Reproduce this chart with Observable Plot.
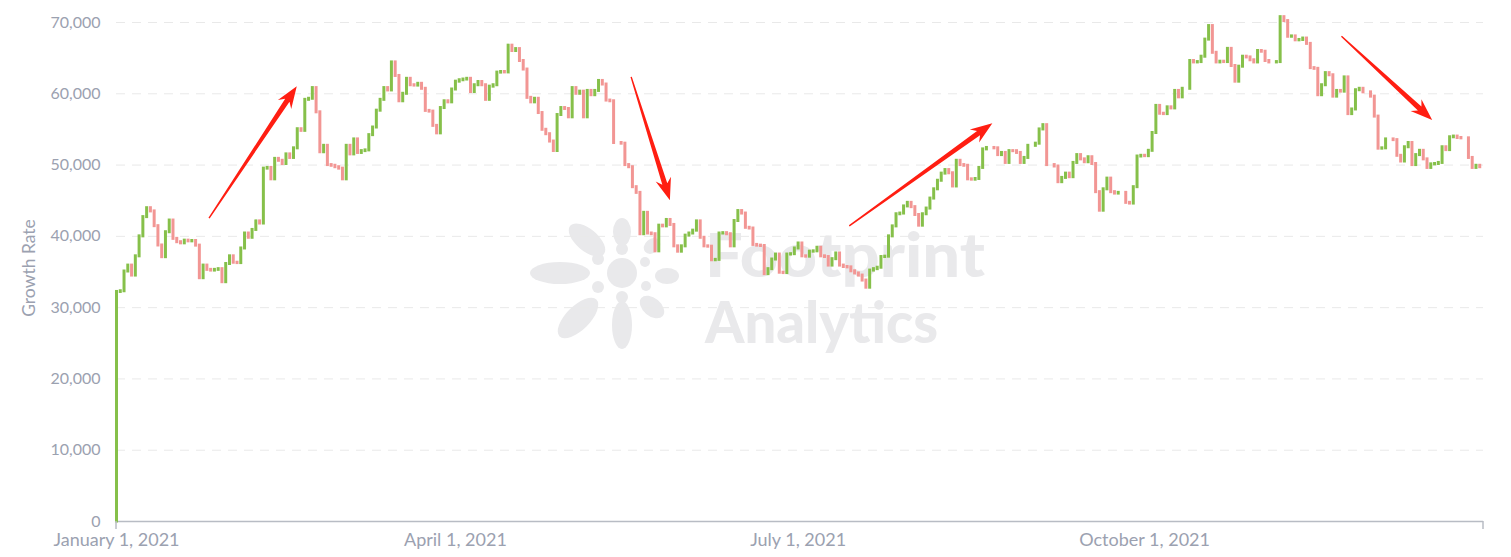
<!DOCTYPE html>
<html><head><meta charset="utf-8">
<script src="https://cdn.jsdelivr.net/npm/d3@7"></script>
<script src="https://cdn.jsdelivr.net/npm/@observablehq/plot@0.6"></script>
<style>
html,body{margin:0;padding:0;background:#fff;}
#wrap{position:relative;width:1511px;height:557px;font-family:Lato, sans-serif;overflow:hidden;}
#wm{position:absolute;left:0;top:0;}
#chart{position:absolute;left:0;top:0;}
#ylab{position:absolute;left:28px;top:268px;transform:translate(-50%,-50%) rotate(-90deg);font-size:17.5px;color:#9ba1b0;white-space:nowrap;}
</style></head>
<body><div id="wrap">
<svg id="wm" width="1511" height="557">
  <g fill="#e9e9eb">
    <circle cx="622" cy="273" r="15"/>
    <ellipse cx="560" cy="273" rx="30" ry="11"/>
    <ellipse cx="587" cy="240" rx="22" ry="11" transform="rotate(40 587 240)"/>
    <ellipse cx="622" cy="232" rx="9" ry="14"/>
    <ellipse cx="652" cy="246" rx="9" ry="7" transform="rotate(-40 652 246)"/>
    <ellipse cx="667" cy="276" rx="12" ry="8"/>
    <ellipse cx="652" cy="307" rx="14" ry="9" transform="rotate(40 652 307)"/>
    <ellipse cx="622" cy="325" rx="10" ry="24"/>
    <ellipse cx="578" cy="318" rx="26" ry="12" transform="rotate(-45 578 318)"/>
    <circle cx="622" cy="249" r="6"/>
    <circle cx="645" cy="262" r="5"/>
    <circle cx="646" cy="286" r="5"/>
    <circle cx="622" cy="297" r="6"/>
    <circle cx="598" cy="287" r="6"/>
    <circle cx="598" cy="259" r="6"/>
    <text x="705" y="277" font-family="Lato" font-weight="900" font-size="60" textLength="280" lengthAdjust="spacingAndGlyphs">Footprint</text>
    <text x="705" y="343" font-family="Lato" font-weight="900" font-size="58" textLength="233" lengthAdjust="spacingAndGlyphs">Analytics</text>
  </g>
</svg>
<div id="chart"></div>
<div id="ylab">Growth Rate</div>
</div>
<script>
// ---- data ----
const startDate = "2021-01-01";
const closeValues = [
  32200, 32300, 35070, 35900, 34500, 37200, 40000, 42700, 43950, 43500,
  41430, 38720, 37080, 40580, 42220, 39650, 39180, 39020, 39400, 39300,
  39350, 38700, 34130, 35900, 35300, 35200, 35300, 35400, 33570, 36120,
  37200, 36300, 36250, 38300, 40400, 39800, 40900, 42100, 41800, 49500,
  49600, 48000, 50870, 50600, 50150, 51500, 51000, 52350, 55030, 54800,
  59150, 59300, 60800, 57400, 51800, 52700, 50000, 49900, 49700, 49500,
  48000, 52700, 51500, 53600, 51700, 51960, 52060, 54200, 55270, 57630,
  59150, 60800, 60470, 64400, 62500, 58950, 60000, 62100, 61200, 61150,
  61400, 60700, 57600, 57500, 55500, 54450, 58000, 58950, 58800, 60600,
  61700, 61900, 62000, 62100, 60250, 61200, 61650, 61200, 59150, 61000,
  61200, 62970, 63060, 63000, 66750, 66000, 66270, 64600, 63400, 59430,
  58800, 59300, 57300, 54950, 54330, 53300, 51970, 57020, 58000, 57870,
  56700,
  60800, 60000, 60300, 56700, 60400, 59800, 60400, 61800, 61300, 59050,
  58950, 53100, null, 53000, 50000, 49700, 46900, 46100, 40300, 43300,
  40400, 40300, 37900, 41500, 41400, 42300, 41600, 38600, 37850, 38600,
  40100, 40400, 40800, 42100, 39800, 38600, 38550, 36650, 36700, 40400,
  40450, 40300, 38600, 42150, 43550, 43200, 41200, 41100, 38800, 38700,
  38650, 34700, 35400, 36750, 37450, 34900, 34850, 37450, 37500, 38300,
  39000,
  37200, 37150, 37850, 37900, 38400, 37200, 37100, 35900, 36800, 37600,
  35900, 35700, 35650, 35100, 34800, 34500, 33800, 32800, 35200, 35400,
  35600, 37100, 37150, 40000, 41400, 43100, 43200, 44200, 44700, 44100,
  43000, 41500, 43100, 43900, 45300, 46600, 47800, 48800, 49300, 48850,
  47000, 50600, 50000, 49900, 48000, 47950, 48050, 49600, 52200, 52400,
  null, 52350, 51400, 51700, 50300, 51960, 51950, 51700, 50300, 51000,
  52700,
  null, 53000, 55000, 55600, 50000, null, 49800, 47600, 48200, 48800,
  48300, 50300, 51400, 50800, 50400, 51100, 50150, 46200, 43600, 46600,
  48100, 46200, 46000, 46100, null, 44700, 44600, 46900, 51200, 51300,
  51250, 52000, 54500, 58300, 57200, 57150, 58100, 57950, 60400, 59500,
  60700, null, 64600, 64400, 64450, 65200, 67600, 69500, 65750, 64400,
  64500, 64450, 66300, 63900, 61700, 63800, 65200, 65100, 64700, 64400,
  66000,
  65900, 64600, 64400, null, 64450, 70750, 70200, 68000, 68050, 67500,
  67550, 67750, 67000, 63600, 63500, 59800, 61200, 62900, 62600, 59600,
  60400, 60300, 62300, 57150, 57800, 60500, 60700, 60200, null, 59600,
  56800, 52300, 52350, 53600, null, 53500, 51300, 50500, 52500, 53100,
  50000, 51400, 52000, 50800, 49600, 50100, 50150, 50300, 52500, 52100,
  53900, 54000, 53800, 53750, null, 51000, 49600, 49900, 49700
];
const axisEndDate = "2021-12-30";
const yTickValues = [0, 10000, 20000, 30000, 40000, 50000, 60000, 70000];
const xTickDates = ["2021-01-01", "2021-04-01", "2021-07-01", "2021-10-01"];
// annotation arrows (tail -> head), in data units
const arrowFromDate = ["2021-01-25T17:00Z", "2021-05-17T19:00Z", "2021-07-14T17:00Z", "2021-11-22T10:00Z"];
const arrowFromValue = [42500, 62300, 41400, 68000];
const arrowToDate = ["2021-02-18T00:00Z", "2021-05-28T02:00Z", "2021-08-21T17:00Z", "2021-12-16T12:00Z"];
const arrowToValue = [61000, 45000, 55800, 56250];

// ---- build table ----
const day0 = new Date(startDate + "T00:00:00Z");
const bars = [];
let prev = 0;
closeValues.forEach((c, i) => {
  if (c == null) return;
  bars.push({date: d3.utcDay.offset(day0, i), open: prev, close: c});
  prev = c;
});
const xDomain = [day0, new Date(axisEndDate + "T00:00:00Z")];
const arrows = arrowFromDate.map((d, i) => ({
  from: new Date(d), fromV: arrowFromValue[i], to: new Date(arrowToDate[i]), toV: arrowToValue[i]
}));

function overlay(...args) {
  const scales = args.find(a => a && typeof a.x === "function" && typeof a.y === "function");
  if (!scales) return null;
  const sx = scales.x, sy = scales.y;
  const g = d3.create("svg:g");
  for (const d of xDomain) {
    g.append("line").attr("x1", sx(d)).attr("x2", sx(d))
      .attr("y1", sy(0)).attr("y2", sy(0) + 8)
      .attr("stroke", "#b8bcc4").attr("stroke-width", 1.5);
  }
  for (const a of arrows) {
    const x1 = sx(a.from), y1 = sy(a.fromV), x2 = sx(a.to), y2 = sy(a.toV);
    const dx = x2 - x1, dy = y2 - y1, L = Math.hypot(dx, dy);
    const ux = dx / L, uy = dy / L, nx = -uy, ny = ux;
    const P = (t, w) => [x1 + ux * t + nx * w, y1 + uy * t + ny * w];
    const hl = 22, hw = 8, nw = 2.6;
    const pts = [P(0, 0.7), P(L - hl + 5, nw), P(L - hl, hw), P(L, 0), P(L - hl, -hw), P(L - hl + 5, -nw), P(0, -0.7)];
    g.append("polygon").attr("points", pts.map(p => p.join(",")).join(" ")).attr("fill", "#ff1e12");
  }
  return g.node();
}

const up = bars.filter(d => d.close >= d.open);
const down = bars.filter(d => d.close < d.open);

const chart = Plot.plot({
  width: 1511,
  height: 557,
  marginLeft: 116,
  marginRight: 28,
  marginTop: 22,
  marginBottom: 36,
  style: {fontFamily: "Lato, sans-serif", fontSize: "16px", color: "#9ba1b0", background: "transparent", overflow: "visible"},
  x: {type: "utc", domain: xDomain, ticks: xTickDates.map(d => new Date(d + "T00:00:00Z")),
      tickFormat: d3.utcFormat("%B %-d, %Y"), tickSize: 0, tickPadding: 12, label: null},
  y: {domain: [0, 70000], ticks: yTickValues, tickFormat: d3.format(","), tickSize: 0, tickPadding: 16, label: null},
  marks: [
    Plot.ruleY(yTickValues.filter(v => v > 0), {stroke: "#e9e9e9", strokeDasharray: "9,7", strokeWidth: 1}),
    Plot.ruleY([0], {stroke: "#b8bcc4", strokeWidth: 1.5}),
    Plot.ruleX(up, {x: "date", y1: "open", y2: "close", stroke: "#86c04a", strokeWidth: 3, strokeLinecap: "square"}),
    Plot.ruleX(down, {x: "date", y1: "open", y2: "close", stroke: "#f29694", strokeWidth: 3, strokeLinecap: "square"}),
    overlay
  ]
});
// larger x tick labels, as in the reference
chart.querySelectorAll('[aria-label^="x-axis"]').forEach(g => {
  if (g.querySelector("text")) g.setAttribute("font-size", "18");
  g.querySelectorAll("text").forEach(t => t.style.fontSize = "18px");
});
document.getElementById("chart").appendChild(chart);
</script>
</body></html>
